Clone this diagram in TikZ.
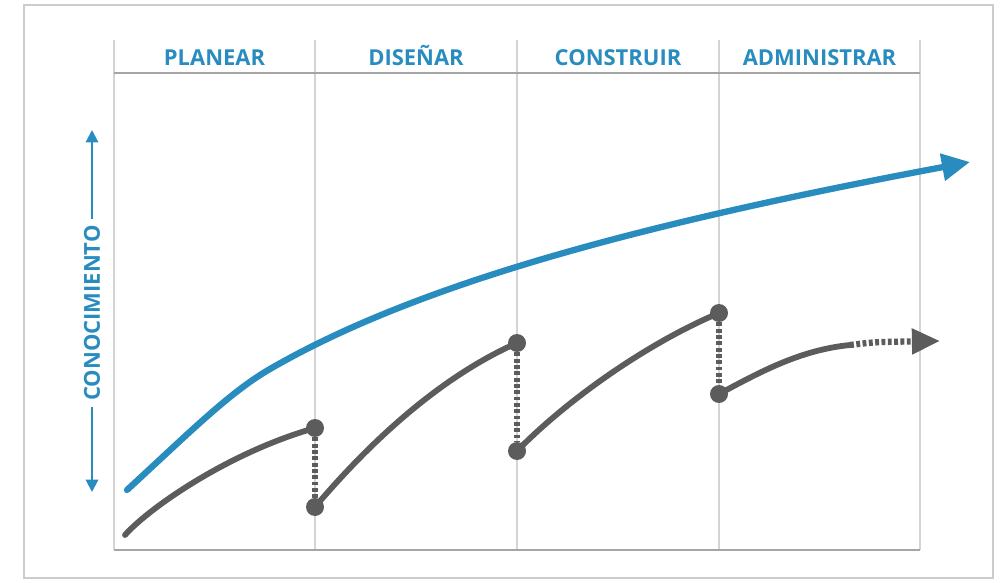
\documentclass[tikz,border=0pt]{standalone}
\usepackage{fontspec}
\setmainfont{Open Sans}
\usetikzlibrary{arrows.meta}
\definecolor{knowblue}{RGB}{41,140,190}
\definecolor{stepgray}{RGB}{92,92,92}
\definecolor{gridgray}{RGB}{212,212,212}
\definecolor{rulegray}{RGB}{165,165,165}
\begin{document}
\begin{tikzpicture}[x=0.02cm,y=0.02cm,
    phase/.style={font=\bfseries\fontsize{12.5}{14}\selectfont,text=knowblue},
    knowledge/.style={knowblue,line width=3.6pt,line cap=round},
    progress/.style={stepgray,line width=3.3pt,line cap=round},
    drop/.style={stepgray,line width=3.4pt,dash pattern=on 2.2pt off 1.4pt},
    milestone/.style={circle,fill=stepgray,inner sep=0pt,minimum size=0.36cm}]
        \useasboundingbox (0,0) rectangle (1000,582);
        %% Frame
        \draw[gray!40,line width=1.2pt] (24,4) rectangle (993,577);
        %% Grid
        \foreach \x in {114,315,517,719,920}
            \draw[gridgray,line width=0.6pt] (\x,32) -- (\x,542);
        \draw[rulegray,line width=1.6pt] (114,509) -- (920,509);
        \draw[rulegray,line width=1.6pt] (114,32) -- (920,32);
        %% Phases
        \node[phase,anchor=base] (planear) at (214.5,516) {PLANEAR};
        \node[phase,anchor=base] (disenar) at (416,516) {DISEÑAR};
        \node[phase,anchor=base] (construir) at (618,516) {CONSTRUIR};
        \node[phase,anchor=base] (administrar) at (819.5,516) {ADMINISTRAR};
        %% Axis
        \node[phase,rotate=90] (axis) at (92,269) {CONOCIMIENTO};
        \coordinate (axistop) at (92,452);
        \coordinate (axisbottom) at (92,90);
        \draw[knowblue,line width=1.2pt,-{Triangle[length=7pt,width=7pt]}] (axis.east) -- (axistop);
        \draw[knowblue,line width=1.2pt,-{Triangle[length=7pt,width=7pt]}] (axis.west) -- (axisbottom);
        %% Knowledge curve
        \coordinate (kstart) at (127,92);
        \coordinate (kbend) at (270,213);
        \coordinate (kend) at (970,420);
        \draw[knowledge,-{Triangle[length=16pt,width=15pt]}] (kstart) .. controls (190,150) and (230,190) .. (kbend)
            .. controls (420,300) and (650,360) .. (kend);
        %% Milestones
        \coordinate (start) at (125,47);
        \node[milestone] (p1) at (315,154) {};
        \node[milestone] (d1) at (315,75) {};
        \node[milestone] (p2) at (517,239) {};
        \node[milestone] (d2) at (517,131) {};
        \node[milestone] (p3) at (719,269) {};
        \node[milestone] (d3) at (719,188) {};
        \coordinate (dotstart) at (850,237);
        \coordinate (end) at (940,241);
        \draw[drop] (p1) -- (d1);
        \draw[drop] (p2) -- (d2);
        \draw[drop] (p3) -- (d3);
        %% Progress curve
        \draw[progress] (start) .. controls (150,75) and (230,130) .. (p1.center);
        \draw[progress] (d1.center) .. controls (370,140) and (440,205) .. (p2.center);
        \draw[progress] (d2.center) .. controls (570,185) and (650,240) .. (p3.center);
        \draw[progress] (d3.center) .. controls (760,210) and (800,232) .. (dotstart);
        \draw[drop,line width=3.6pt,-{Triangle[length=16pt,width=14pt]}] (dotstart) .. controls (875,240) .. (end);
\end{tikzpicture}
\end{document}
